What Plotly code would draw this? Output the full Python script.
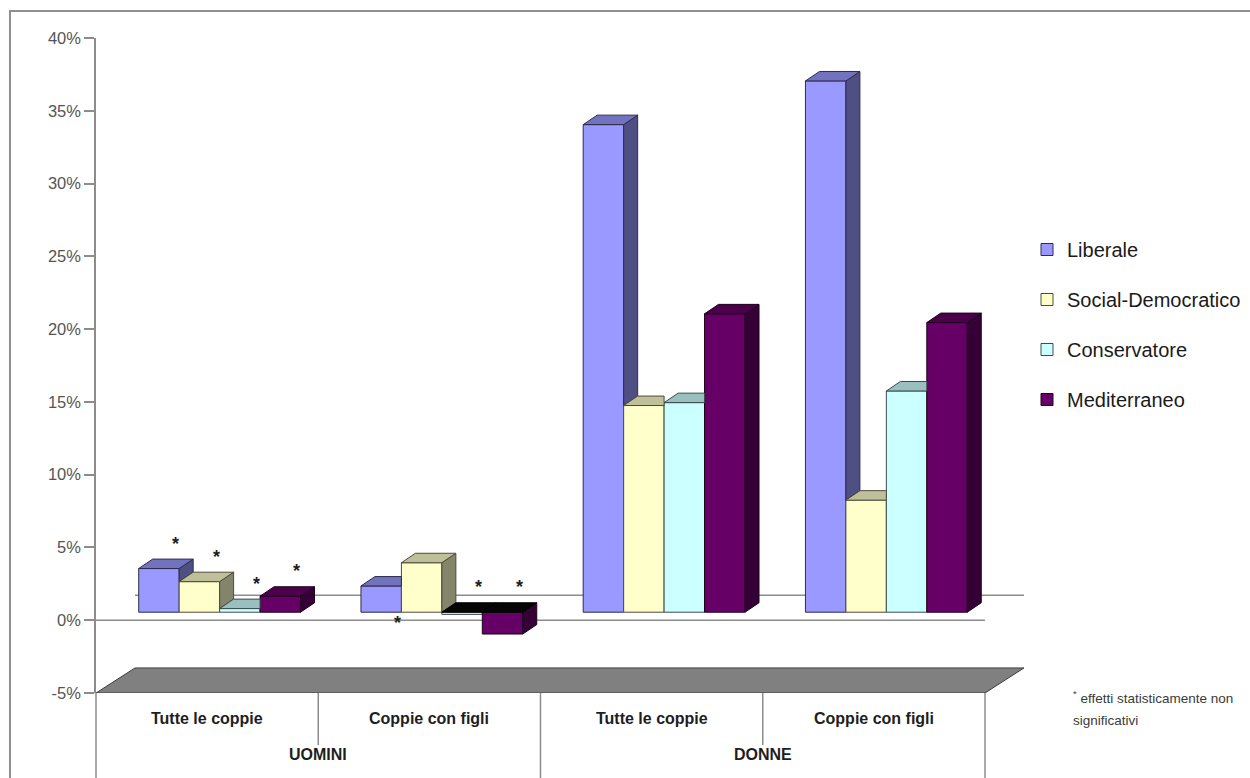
import plotly.graph_objects as go

# ---- data -------------------------------------------------------------
SERIES = ["Liberale", "Social-Democratico", "Conservatore", "Mediterraneo"]
CATEGORIES = ["Tutte le coppie", "Coppie con figli", "Tutte le coppie", "Coppie con figli"]
GROUPS = ["UOMINI", "DONNE"]

# effect in % for each category (UOMINI: tutte / con figli, DONNE: tutte / con figli)
LIBERALE = [3.0, 1.8, 33.5, 36.5]
SOCIAL_DEMOCRATICO = [2.1, 3.4, 14.2, 7.7]
CONSERVATORE = [0.25, -0.15, 14.4, 15.2]
MEDITERRANEO = [1.1, -1.5, 20.5, 19.9]

# effects that are not statistically significant (marked with "*")
NS_LIBERALE = [True, True, False, False]
NS_SOCIAL_DEMOCRATICO = [True, False, False, False]
NS_CONSERVATORE = [True, True, False, False]
NS_MEDITERRANEO = [True, True, False, False]

Y_TICKS = [-5, 0, 5, 10, 15, 20, 25, 30, 35, 40]
Y_TICK_LABELS = ["-5%", "0%", "5%", "10%", "15%", "20%", "25%", "30%", "35%", "40%"]

NOTE_LINES = ["<sup>*</sup> effetti statisticamente non", "significativi"]

VALUES = {
    "Liberale": LIBERALE,
    "Social-Democratico": SOCIAL_DEMOCRATICO,
    "Conservatore": CONSERVATORE,
    "Mediterraneo": MEDITERRANEO,
}
NOT_SIGNIFICANT = {
    "Liberale": NS_LIBERALE,
    "Social-Democratico": NS_SOCIAL_DEMOCRATICO,
    "Conservatore": NS_CONSERVATORE,
    "Mediterraneo": NS_MEDITERRANEO,
}
# the "*" of this (category, series) sits under the zero line
STAR_BELOW = {(1, "Liberale")}

COLORS = {
    "Liberale": "#9999FF",
    "Social-Democratico": "#FFFFCC",
    "Conservatore": "#CCFFFF",
    "Mediterraneo": "#660066",
}

# ---- geometry of the pseudo-3D view -----------------------------------
W, H = 1250, 778
ML, MR, MT, MB = 96, 225, 38, 85
N = len(CATEGORIES)
X_MAX = 4.18
Y_MIN, Y_MAX = -5, 40

DEPTH_X, DEPTH_Y = 0.1755, 1.72      # depth of the floor (x units, % units)
SX, SY = 0.32 * DEPTH_X, 0.32 * DEPTH_Y  # bars sit a bit behind the front plane
BDX, BDY = 0.063, 0.65               # depth of a single column
BAR_W = 0.182

FONT = "Liberation Sans, Arial, sans-serif"


def shade(hex_color, f):
    h = hex_color.lstrip("#")
    r, g, b = (int(h[i:i + 2], 16) for i in (0, 2, 4))
    return "#{:02x}{:02x}{:02x}".format(int(r * f), int(g * f), int(b * f))


def paper_x(px):
    return (px - ML) / (W - ML - MR)


def paper_y(py):
    return (H - MB - py) / (H - MT - MB)


def x_to_paper(v):
    return v / X_MAX


fig = go.Figure()

# floor
fig.add_trace(go.Scatter(
    x=[0, N, N + DEPTH_X, DEPTH_X, 0],
    y=[Y_MIN, Y_MIN, Y_MIN + DEPTH_Y, Y_MIN + DEPTH_Y, Y_MIN],
    mode="lines", fill="toself", fillcolor="#808080",
    line=dict(color="#3c3c3c", width=1),
    hoverinfo="skip", showlegend=False,
))
# zero line on the back wall and on the front plane
fig.add_trace(go.Scatter(
    x=[DEPTH_X, N + DEPTH_X], y=[DEPTH_Y, DEPTH_Y], mode="lines",
    line=dict(color="#8c8c8c", width=1.5), hoverinfo="skip", showlegend=False,
))
fig.add_trace(go.Scatter(
    x=[0, N], y=[0, 0], mode="lines",
    line=dict(color="#8c8c8c", width=1.5), hoverinfo="skip", showlegend=False,
))

# front faces of the columns
for k, name in enumerate(SERIES):
    xs = [g + 0.5 + (k - 1.5) * BAR_W for g in range(N)]
    fig.add_trace(go.Bar(
        x=xs, y=VALUES[name], width=BAR_W, name=name,
        marker=dict(color=COLORS[name], line=dict(color=shade(COLORS[name], 0.3), width=1)),
        xaxis="x2", yaxis="y2", legendgroup=name,
    ))

# side and top faces, clipped where the next column hides them
for g in range(N):
    for k, name in enumerate(SERIES):
        v = VALUES[name][g]
        lo, hi = min(0, v), max(0, v)
        L = g + 0.5 + (k - 2) * BAR_W
        R = L + BAR_W
        nxt = None
        if k + 1 < len(SERIES):
            nv = VALUES[SERIES[k + 1]][g]
            nxt = (min(0, nv), max(0, nv))
        col = COLORS[name]
        edge = shade(col, 0.3)

        a = lo if nxt is None else max(lo, nxt[1])
        if a < hi:
            fig.add_trace(go.Scatter(
                x=[R, R + BDX, R + BDX, R, R],
                y=[a, a + BDY, hi + BDY, hi, a],
                mode="lines", fill="toself", fillcolor=shade(col, 0.52),
                line=dict(color=edge, width=1), xaxis="x2", yaxis="y2",
                hoverinfo="skip", showlegend=False,
            ))

        top_col = shade(col, 0.75) if v > 0 else "#050505"
        if nxt is not None and nxt[1] > hi:
            tx = [L, R, R, L + BDX, L]
            ty = [hi, hi, hi + BDY, hi + BDY, hi]
        else:
            tx = [L, R, R + BDX, L + BDX, L]
            ty = [hi, hi, hi + BDY, hi + BDY, hi]
        fig.add_trace(go.Scatter(
            x=tx, y=ty, mode="lines", fill="toself", fillcolor=top_col,
            line=dict(color=edge if v > 0 else "#000000", width=1),
            xaxis="x2", yaxis="y2", hoverinfo="skip", showlegend=False,
        ))

annotations = []

# "*" markers for non-significant effects
for k, name in enumerate(SERIES):
    for g in range(N):
        if not NOT_SIGNIFICANT[name][g]:
            continue
        v = VALUES[name][g]
        cx = g + 0.5 + (k - 1.5) * BAR_W
        below = (g, name) in STAR_BELOW
        annotations.append(dict(
            x=cx + 0.075, y=0 if below else max(0, v), xref="x2", yref="y2",
            text="<b>*</b>", showarrow=False, yanchor="middle",
            yshift=-11 if below else 25,
            font=dict(family=FONT, size=18, color="#1e1e1e"),
        ))

# category and group labels under the floor
for g, cat in enumerate(CATEGORIES):
    annotations.append(dict(
        x=g + 0.5, y=paper_y(718), xref="x", yref="paper", text="<b>%s</b>" % cat,
        showarrow=False, yanchor="middle",
        font=dict(family=FONT, size=16, color="#1e1e1e"),
    ))
for j, grp in enumerate(GROUPS):
    annotations.append(dict(
        x=2 * j + 1, y=paper_y(754), xref="x", yref="paper", text="<b>%s</b>" % grp,
        showarrow=False, yanchor="middle",
        font=dict(family=FONT, size=16, color="#1e1e1e"),
    ))

# footnote
for i, line in enumerate(NOTE_LINES):
    annotations.append(dict(
        x=paper_x(1071), y=paper_y(697 + 23 * i), xref="paper", yref="paper",
        text=line, showarrow=False, xanchor="left", yanchor="middle",
        font=dict(family=FONT, size=13.5, color="#3a3a3a"),
    ))

shapes = []
# separators between category labels
for xv, bottom in [(0, H), (1, 745), (2, H), (3, 745), (4, H)]:
    shapes.append(dict(
        type="line", xref="paper", yref="paper",
        x0=x_to_paper(xv), x1=x_to_paper(xv), y0=0, y1=paper_y(bottom),
        line=dict(color="#8c8c8c", width=1.5),
    ))
# chart border
shapes.append(dict(
    type="rect", xref="paper", yref="paper",
    x0=paper_x(10), x1=paper_x(W + 20), y0=paper_y(H + 20), y1=paper_y(11),
    line=dict(color="#8f8f8f", width=2), fillcolor="rgba(0,0,0,0)", layer="below",
))

fig.update_layout(
    width=W, height=H,
    margin=dict(l=ML, r=MR, t=MT, b=MB, autoexpand=False),
    paper_bgcolor="white", plot_bgcolor="rgba(0,0,0,0)",
    barmode="overlay",
    showlegend=True,
    legend=dict(
        x=paper_x(1027), y=paper_y(230), xanchor="left", yanchor="top",
        font=dict(family=FONT, size=20, color="#1a1a1a"),
        tracegroupgap=21, bgcolor="rgba(0,0,0,0)",
    ),
    xaxis=dict(range=[0, X_MAX], visible=False, fixedrange=True),
    yaxis=dict(
        range=[Y_MIN, Y_MAX], tickvals=Y_TICKS, ticktext=Y_TICK_LABELS,
        ticks="outside", ticklen=10, tickwidth=1.5, tickcolor="#8c8c8c",
        showline=True, linecolor="#8c8c8c", linewidth=1.5,
        showgrid=False, zeroline=False, fixedrange=True,
        tickfont=dict(family=FONT, size=16.5, color="#555555"),
    ),
    xaxis2=dict(overlaying="x", range=[-SX, X_MAX - SX], visible=False, fixedrange=True),
    yaxis2=dict(overlaying="y", range=[Y_MIN - SY, Y_MAX - SY], visible=False, fixedrange=True),
    annotations=annotations,
    shapes=shapes,
)

fig.write_html("out.html")
